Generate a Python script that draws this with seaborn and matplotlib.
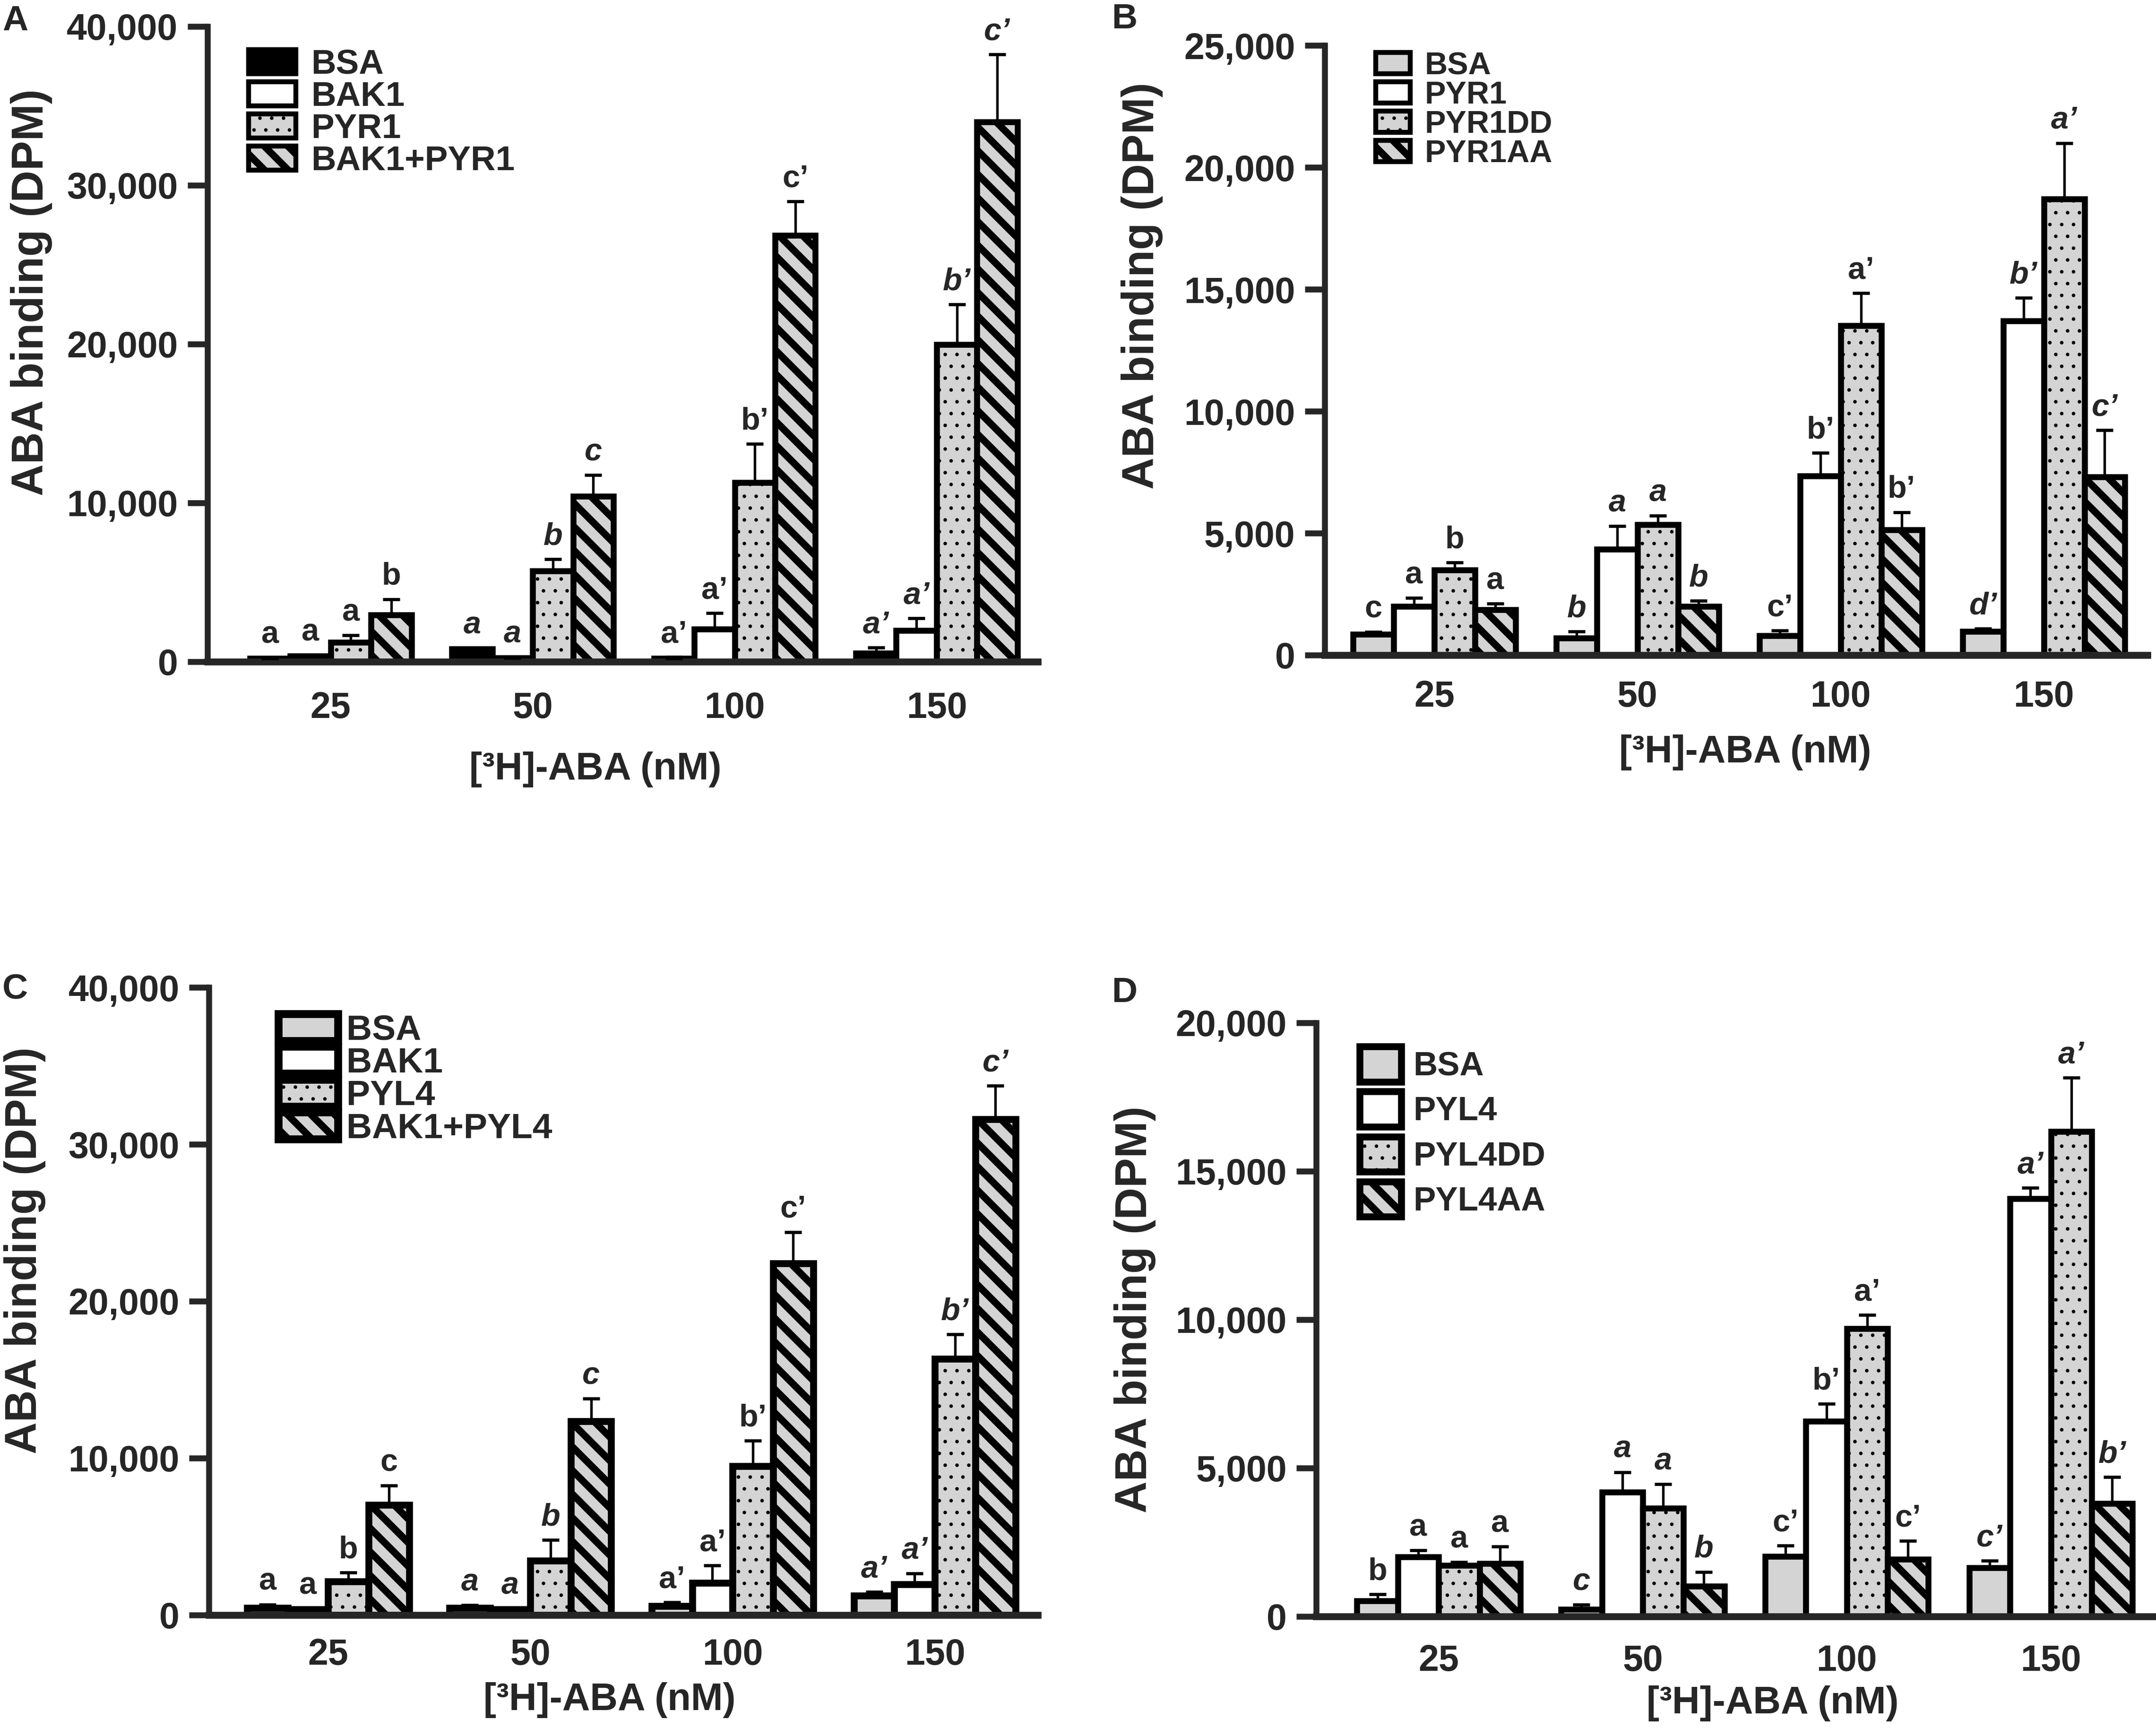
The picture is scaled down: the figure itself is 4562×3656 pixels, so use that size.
import numpy as np
import pandas as pd
import matplotlib
matplotlib.use('Agg')
import matplotlib.pyplot as plt
import matplotlib.patches as mpatches
from matplotlib.ticker import FuncFormatter
import seaborn as sns

sns.set_style('white')
plt.rcParams['font.family'] = ['Liberation Sans', 'DejaVu Sans']
plt.rcParams['font.weight'] = 'bold'
plt.rcParams['hatch.linewidth'] = 4.0

# 共用資料
conc = ['25', '50', '100', '150']
italic_groups = [False, True, False, True]
GRAY = '#d4d4d4'

# A
a_names = ['BSA', 'BAK1', 'PYR1', 'BAK1+PYR1']
a_vals = [[200, 790, 200, 530],
          [350, 220, 2060, 1970],
          [1230, 5700, 11270, 19960],
          [2940, 10400, 26840, 33990]]
a_errs = [[50, 60, 80, 350],
          [60, 80, 1000, 750],
          [440, 750, 2450, 2540],
          [1000, 1350, 2150, 4250]]
a_lets = [['a', 'a', 'a’', 'a’'],
          ['a', 'a', 'a’', 'a’'],
          ['a', 'b', 'b’', 'b’'],
          ['b', 'c', 'c’', 'c’']]

# B
b_names = ['BSA', 'PYR1', 'PYR1DD', 'PYR1AA']
b_vals = [[860, 690, 800, 970],
          [2000, 4340, 7340, 13710],
          [3490, 5340, 13510, 18710],
          [1860, 2000, 5140, 7310]]
b_errs = [[80, 280, 200, 120],
          [340, 950, 950, 940],
          [310, 370, 1340, 2290],
          [250, 230, 720, 1920]]
b_lets = [['c', 'b', 'c’', 'd’'],
          ['a', 'a', 'b’', 'b’'],
          ['b', 'a', 'a’', 'a’'],
          ['a', 'b', 'b’', 'c’']]

# C
c_names = ['BSA', 'BAK1', 'PYL4', 'BAK1+PYL4']
c_vals = [[440, 440, 580, 1240],
          [360, 360, 2040, 1950],
          [2130, 3460, 9500, 16330],
          [7010, 12340, 22410, 31600]]
c_errs = [[230, 180, 220, 220],
          [60, 60, 1110, 710],
          [580, 1330, 1600, 1560],
          [1250, 1460, 2000, 2130]]
c_lets = [['a', 'a', 'a’', 'a’'],
          ['a', 'a', 'a’', 'a’'],
          ['b', 'b', 'b’', 'b’'],
          ['c', 'c', 'c’', 'c’']]

# D
d_names = ['BSA', 'PYL4', 'PYL4DD', 'PYL4AA']
d_vals = [[520, 230, 2020, 1640],
          [2000, 4180, 6570, 14080],
          [1710, 3640, 9690, 16340],
          [1780, 1010, 1920, 3800]]
d_errs = [[230, 170, 370, 240],
          [230, 680, 590, 360],
          [120, 820, 470, 1810],
          [570, 490, 620, 890]]
d_lets = [['b', 'c', 'c’', 'c’'],
          ['a', 'a', 'b’', 'a’'],
          ['a', 'a', 'a’', 'a’'],
          ['a', 'b', 'c’', 'b’']]

faces_a = ['black', 'white', GRAY, GRAY]
faces_bcd = [GRAY, 'white', GRAY, GRAY]
patterns = [None, None, 'dots', 'stripes']


def apply_pattern(p, pat):
    if pat == 'dots':
        p.set_hatch('..')
        if hasattr(p, 'set_hatch_linewidth'):
            p.set_hatch_linewidth(0.6)
    elif pat == 'stripes':
        p.set_hatch('\\\\')
        if hasattr(p, 'set_hatch_linewidth'):
            p.set_hatch_linewidth(3.6)


def draw_panel(ax, names, vals, errs, lets, faces, ymax, ystep, xlim, edge_lw,
               xpad, xlab_pos, ylab_pos, leg):
    rows = []
    for s, name in enumerate(names):
        for c, cc in enumerate(conc):
            rows.append({'conc': cc, 'protein': name, 'binding': vals[s][c]})
    df = pd.DataFrame(rows)
    sns.barplot(data=df, x='conc', y='binding', hue='protein', order=conc,
                hue_order=names, palette=dict(zip(names, faces)), saturation=1,
                errorbar=None, edgecolor='black', linewidth=edge_lw, width=0.8,
                legend=False, ax=ax, zorder=2)

    bar_sets = list(ax.containers)
    for s, cont in enumerate(bar_sets):
        xs, hs = [], []
        for c, bar in enumerate(cont):
            apply_pattern(bar, patterns[s])
            xs.append(bar.get_x() + bar.get_width() / 2)
            hs.append(bar.get_height())
        e = np.array(errs[s])
        ax.errorbar(xs, hs, yerr=[np.zeros_like(e), e], fmt='none', ecolor='black',
                    elinewidth=1.3, capsize=4.4, capthick=1.6, zorder=3, clip_on=False)
        for c in range(len(conc)):
            ax.annotate(lets[s][c], (xs[c], hs[c] + e[c]), xytext=(0, 4),
                        textcoords='offset points', ha='center', va='bottom',
                        fontsize=16, fontweight='bold',
                        fontstyle='italic' if italic_groups[c] else 'normal',
                        annotation_clip=False)

    ax.set_xlim(*xlim)
    ax.set_ylim(0, ymax)
    ax.set_yticks(np.arange(0, ymax + 1, ystep))
    ax.yaxis.set_major_formatter(FuncFormatter(lambda v, p: f'{v:,.0f}'))
    sns.despine(ax=ax)
    ax.spines['left'].set_linewidth(3)
    ax.spines['bottom'].set_linewidth(3.5)
    ax.tick_params(axis='y', direction='out', length=10, width=3, pad=5,
                   labelsize=18.5, left=True)
    ax.tick_params(axis='x', length=0, pad=xpad, labelsize=18.5)

    ax.set_xlabel('[³H]-ABA (nM)', fontsize=19.5, fontweight='bold')
    ax.xaxis.set_label_coords(*xlab_pos)
    ax.xaxis.label.set_va('center')
    ax.set_ylabel('ABA binding (DPM)', fontsize=22.5, fontweight='bold')
    ax.yaxis.set_label_coords(*ylab_pos)
    ax.yaxis.label.set_va('center')

    handles = []
    for s, name in enumerate(names):
        h = mpatches.Patch(facecolor=faces[s], edgecolor='black',
                           linewidth=leg['lw'], label=name)
        apply_pattern(h, patterns[s])
        handles.append(h)
    lg = ax.legend(handles=handles, loc='upper left', bbox_to_anchor=leg['anchor'],
                   frameon=False, borderpad=0, borderaxespad=0,
                   handlelength=leg['hl'], handleheight=leg['hh'],
                   handletextpad=leg['pad'], labelspacing=leg['sp'],
                   prop={'weight': 'bold', 'size': leg['fs']})
    for s, p in enumerate(lg.get_patches()):
        apply_pattern(p, patterns[s])


fig = plt.figure(figsize=(4562 / 300, 3656 / 300), dpi=300)
ax_a = fig.add_axes([0.0962, 0.6171, 0.3851, 0.3676])
ax_b = fig.add_axes([0.6144, 0.6209, 0.3816, 0.3528])
ax_c = fig.add_axes([0.0969, 0.0654, 0.3845, 0.3632])
ax_d = fig.add_axes([0.6105, 0.0646, 0.3890, 0.3435])

draw_panel(ax_a, a_names, a_vals, a_errs, a_lets, faces_a, 40000, 10000,
           (-0.61, 3.5), 3.0, 15, (0.467, -0.170), (-0.212, 0.581),
           dict(anchor=(0.0495, 0.965), hl=1.37, hh=0.71, pad=0.45, sp=0.0, fs=17.5, lw=2.5))
draw_panel(ax_b, b_names, b_vals, b_errs, b_lets, faces_bcd, 25000, 5000,
           (-0.54, 3.51), 3.0, 12.5, (0.511, -0.160), (-0.222, 0.606),
           dict(anchor=(0.062, 0.99), hl=1.1, hh=0.66, pad=0.45, sp=0.0, fs=16, lw=2.5))
draw_panel(ax_c, c_names, c_vals, c_errs, c_lets, faces_bcd, 40000, 10000,
           (-0.59, 3.51), 3.5, 11.5, (0.483, -0.1355), (-0.222, 0.581),
           dict(anchor=(0.084, 0.958), hl=1.67, hh=0.79, pad=0.24, sp=0.0, fs=18, lw=4))
draw_panel(ax_d, d_names, d_vals, d_errs, d_lets, faces_bcd, 20000, 5000,
           (-0.60, 3.51), 3.0, 14, (0.544, -0.1465), (-0.216, 0.517),
           dict(anchor=(0.052, 0.96), hl=1.24, hh=1.24, pad=0.35, sp=0.27, fs=17, lw=3.5))

for lab, x, y in [('A', 32, 44), ('B', 2380, 41), ('C', 32, 2093), ('D', 2380, 2100)]:
    fig.text(x / 4562, 1 - y / 3656, lab, fontsize=18, fontweight='bold',
             ha='center', va='center')

fig.savefig('out.png', dpi=300)
